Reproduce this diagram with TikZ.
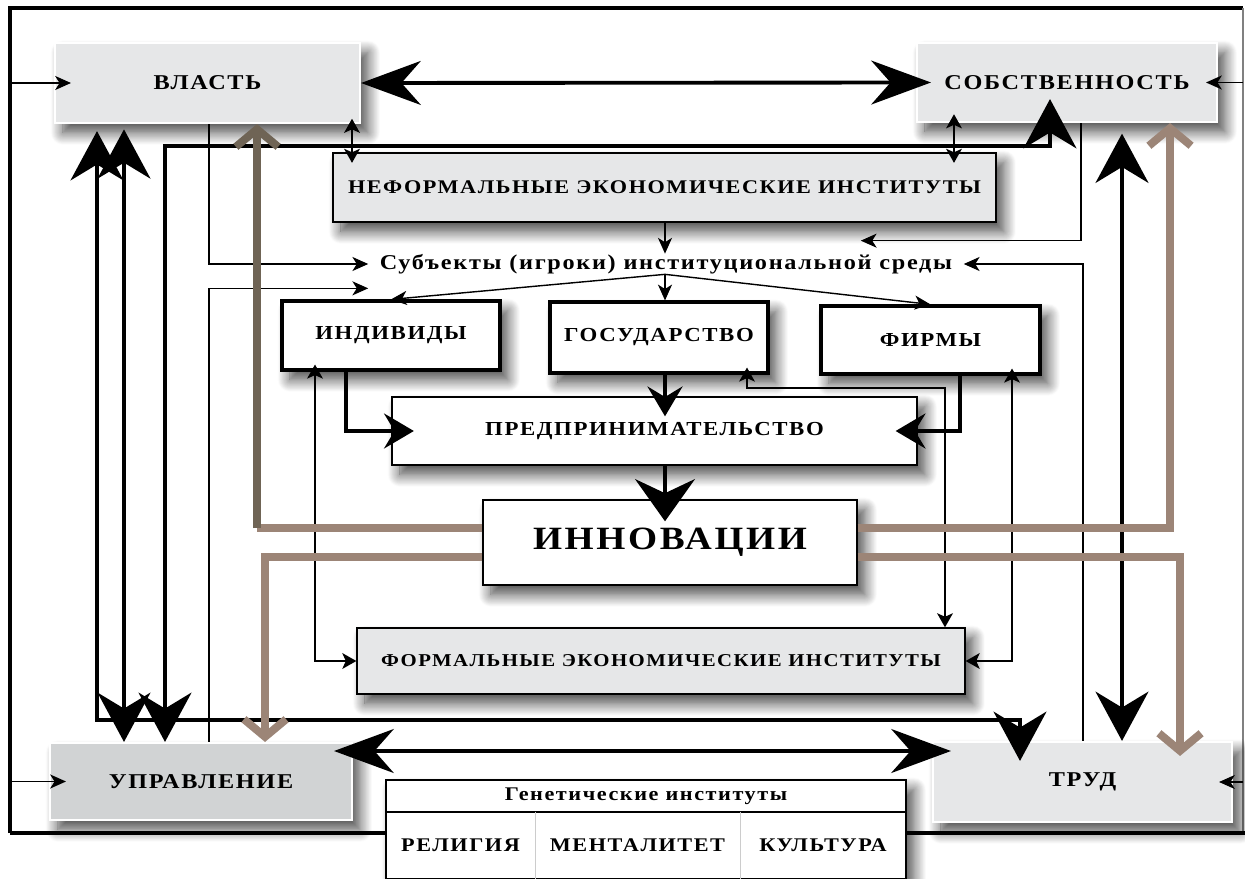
\documentclass[tikz,border=0pt]{standalone}
\usepackage{fontspec}
\setmainfont{Liberation Serif}[LetterSpace=8, FakeStretch=1.15]
\usetikzlibrary{arrows.meta,shadows.blur}

\definecolor{boxgray}{HTML}{E6E7E8}
\definecolor{mgmtgray}{HTML}{D1D3D4}
\definecolor{brownlight}{HTML}{9C8577}
\definecolor{browndark}{HTML}{6F6455}

\tikzset{
  shade box/.style={blur shadow={shadow xshift=4.5pt, shadow yshift=-5.5pt,
      shadow blur radius=7pt, shadow blur steps=14, shadow opacity=72}},
  corner box/.style={rectangle, fill=boxgray, draw=white, line width=1.2pt,
      shade box, font=\fontsize{12}{14}\selectfont\bfseries},
  inst box/.style={rectangle, fill=boxgray, draw=black, line width=0.8pt,
      shade box, font=\fontsize{11}{13}\selectfont\bfseries},
  player box/.style={rectangle, fill=white, draw=black, line width=1.8pt,
      shade box, font=\fontsize{11.3}{13}\selectfont\bfseries},
  plain box/.style={rectangle, fill=white, draw=black, line width=0.8pt,
      shade box, font=\fontsize{11.3}{13}\selectfont\bfseries},
  cell text/.style={rectangle, inner sep=0pt, font=\fontsize{11}{13}\selectfont\bfseries},
  thin link/.style={line width=0.8pt, -{Stealth[length=9pt,width=8pt,inset=2.5pt]}},
  thin both/.style={line width=0.8pt,
      {Stealth[length=8pt,width=9pt,inset=2pt]}-{Stealth[length=8pt,width=9pt,inset=2pt]}},
  big both/.style={line width=2.8pt,
      {Stealth[length=28pt,width=30pt,inset=9pt]}-{Stealth[length=28pt,width=30pt,inset=9pt]}},
  wide both/.style={line width=2.2pt,
      {Stealth[length=34pt,width=25pt,inset=11pt]}-{Stealth[length=34pt,width=25pt,inset=11pt]}},
  flow/.style={line width=1.8pt, -{Stealth[length=17pt,width=20pt,inset=6pt]}},
  big flow/.style={line width=2.4pt, -{Stealth[length=24pt,width=34pt,inset=8pt]}},
  brown seg/.style={line width=4.5pt, brownlight, line cap=square},
  brown link/.style={line width=4.5pt, brownlight, -{Straight Barb[length=10pt,width=24pt]}}
}

\begin{document}
\begin{tikzpicture}[x=0.02cm, y=-0.02cm]
  \useasboundingbox (0,0) rectangle (1245,879);

  % frame
  \draw[line width=2.2pt] (10,833) -- (10,8) -- (1243,8);
  \draw[line width=0.6pt, gray] (1243,8) -- (1243,833);
  \draw[line width=2.2pt] (10,833) -- (1245,833);

  % boxes
  \node[corner box, minimum width=6.1cm, minimum height=1.6cm] (vlast) at (207.5,83) {ВЛАСТЬ};
  \node[corner box, minimum width=6cm, minimum height=1.58cm] (sobst) at (1067,82.5) {СОБСТВЕННОСТЬ};
  \node[inst box, minimum width=13.26cm, minimum height=1.38cm] (neform) at (664.5,187.5)
       {НЕФОРМАЛЬНЫЕ ЭКОНОМИЧЕСКИЕ ИНСТИТУТЫ};
  \node[rectangle, inner sep=0pt, minimum width=11.9cm, minimum height=0.4cm,
        font=\fontsize{12}{14}\selectfont\bfseries] (subj) at (666,264)
       {Субъекты (игроки) институциональной среды};
  \node[player box, minimum width=4.36cm, minimum height=1.38cm] (indiv) at (391,335.5) {ИНДИВИДЫ};
  \node[player box, minimum width=4.36cm, minimum height=1.42cm] (gos) at (659,337.5) {ГОСУДАРСТВО};
  \node[player box, minimum width=4.38cm, minimum height=1.36cm] (firm) at (930.5,340) {ФИРМЫ};
  \node[plain box, minimum width=10.5cm, minimum height=1.36cm] (predpr) at (654.5,431)
       {ПРЕДПРИНИМАТЕЛЬСТВО};
  \node[plain box, minimum width=7.48cm, minimum height=1.7cm,
        font=\fontsize{18.5}{20}\selectfont\bfseries] (innov) at (670,542.5) {ИННОВАЦИИ};
  \node[inst box, minimum width=12.16cm, minimum height=1.32cm,
        font=\fontsize{10.3}{12}\selectfont\bfseries] (form) at (661,661)
       {ФОРМАЛЬНЫЕ ЭКОНОМИЧЕСКИЕ ИНСТИТУТЫ};
  \node[corner box, fill=mgmtgray, minimum width=6.04cm, minimum height=1.54cm] (uprav) at (201,781.5) {УПРАВЛЕНИЕ};
  \node[corner box, minimum width=5.98cm, minimum height=1.6cm] (trud) at (1082.5,782) {ТРУД};

  % columns and bends
  \coordinate (ka) at (97,720);
  \coordinate (kb) at (1020,720);
  \coordinate (kc) at (165,146);
  \coordinate (kd) at (1050,146);
  \coordinate (kv) at (124,0);
  \coordinate (ke) at (1122,0);
  \coordinate (kt) at (209,0);
  \coordinate (kn1) at (352,0);
  \coordinate (kn2) at (954,0);
  \coordinate (ks1) at (1081,0);
  \coordinate (ks2) at (1083,0);
  \coordinate (km) at (665,0);
  \coordinate (ki1) at (315,0);
  \coordinate (ki2) at (346,0);
  \coordinate (kg0) at (747,0);
  \coordinate (kg) at (945,388);
  \coordinate (kf1) at (960,0);
  \coordinate (kf2) at (1012,0);
  \coordinate (bv) at (257,528);
  \coordinate (bu) at (265,557);
  \coordinate (bs) at (1170,528);
  \coordinate (bt) at (1180,557);
  \coordinate (fw) at (10,0);
  \coordinate (fe) at (1243,0);

  % thick links between the corners
  \draw[wide both, shorten >=-0.3cm] (vlast.east) -- (sobst.west);
  \draw[wide both, shorten <=-0.38cm, shorten >=-0.38cm] ([yshift=0.61cm]uprav.east) -- ([yshift=0.62cm]trud.west);
  \draw[big both, shorten <=4pt, shorten >=-0.4cm] (ka |- vlast.south) -- (ka) -| (kb |- trud.north);
  \draw[big both, shorten <=3pt] (kv |- vlast.south) -- (kv |- uprav.north);
  \draw[big both, shorten >=-0.48cm] (kc |- uprav.north) -- (kc) -| (kd |- sobst.south);
  \draw[big both, shorten <=6pt] (ke |- sobst.south) -- (ke |- trud.north);

  % links from the frame
  \draw[thin link, shorten >=-0.34cm] (fw |- vlast.west) -- (vlast.west);
  \draw[thin link, shorten >=-0.34cm] (fw |- uprav.west) -- (uprav.west);
  \draw[thin link, shorten >=-0.24cm] (fe |- sobst.east) -- (sobst.east);
  \draw[thin link, shorten >=-0.28cm] (fe |- trud.east) -- (trud.east);

  % thin links to the institutions and players
  \draw[thin both, shorten <=-3pt, shorten >=-6pt] (kn1 |- vlast.south) -- (kn1 |- neform.north);
  \draw[thin both, shorten <=-5pt, shorten >=-6pt] (kn2 |- sobst.south) -- (kn2 |- neform.north);
  \draw[thin link] (km |- neform.south) -- (km |- subj.north);
  \draw[thin link] (kt |- vlast.south) |- (subj.west);
  \draw[thin link] (kt |- uprav.north) |- ([yshift=-0.28cm]subj.south west);
  \draw[thin link] (ks1 |- sobst.south) |- ([xshift=-2.06cm,yshift=0.26cm]subj.north east);
  \draw[thin link] (ks2 |- trud.north) |- (subj.east);
  \draw[thin link] (km |- subj.south) -- (indiv.north);
  \draw[thin link] (km |- subj.south) -- (km |- gos.north);
  \draw[thin link] (km |- subj.south) -- (firm.north);
  \draw[thin both, shorten <=-4pt] (ki1 |- indiv.south) |- (form.west);
  \draw[thin both, shorten <=-4pt] (kg0 |- gos.south) |- (kg) -- (kg |- form.north);
  \draw[thin both, shorten <=-4pt] (kf2 |- firm.south) |- (form.east);

  % players to entrepreneurship to innovation
  \draw[flow, shorten >=-0.45cm] (ki2 |- indiv.south) |- (predpr.west);
  \draw[flow, shorten >=-0.4cm] (km |- gos.south) -- (km |- predpr.north);
  \draw[flow, shorten >=-0.44cm] (kf1 |- firm.south) |- (predpr.east);
  \draw[big flow, shorten >=-0.44cm] (km |- predpr.south) -- (km |- innov.north);

  % innovation feeds back to the corners
  \draw[brown seg] (bv -| innov.west) -- (bv);
  \draw[brown link, color=browndark] (bv) -- (bv |- vlast.south);
  \draw[brown link] (bu -| innov.west) -- (bu) -- (bu |- uprav.north);
  \draw[brown link] (bs -| innov.east) -- (bs) -- (bs |- sobst.south);
  \draw[brown link, shorten >=-0.3cm] (bt -| innov.east) -- (bt) -- (bt |- trud.north);

  % genetic institutions
  \node[rectangle, fill=white, draw=black, line width=1pt, shade box,
        minimum width=10.4cm, minimum height=1.98cm] (genet) at (646,829.5) {};
  \node[cell text, minimum width=10.4cm, minimum height=0.64cm] (genhead) at (646,796) {Генетические институты};
  \node[cell text, minimum width=2.98cm, minimum height=1.34cm] (relig) at (460.5,845.5) {РЕЛИГИЯ};
  \node[cell text, minimum width=4.1cm, minimum height=1.34cm] (mental) at (637.5,845.5) {МЕНТАЛИТЕТ};
  \node[cell text, minimum width=3.32cm, minimum height=1.34cm] (cult) at (823,845.5) {КУЛЬТУРА};
  \draw[line width=1pt] (genhead.south west) -- (genhead.south east);
  \draw[line width=0.6pt, black!20] (relig.north east) -- (relig.south east);
  \draw[line width=0.6pt, black!20] (mental.north east) -- (mental.south east);
\end{tikzpicture}
\end{document}
